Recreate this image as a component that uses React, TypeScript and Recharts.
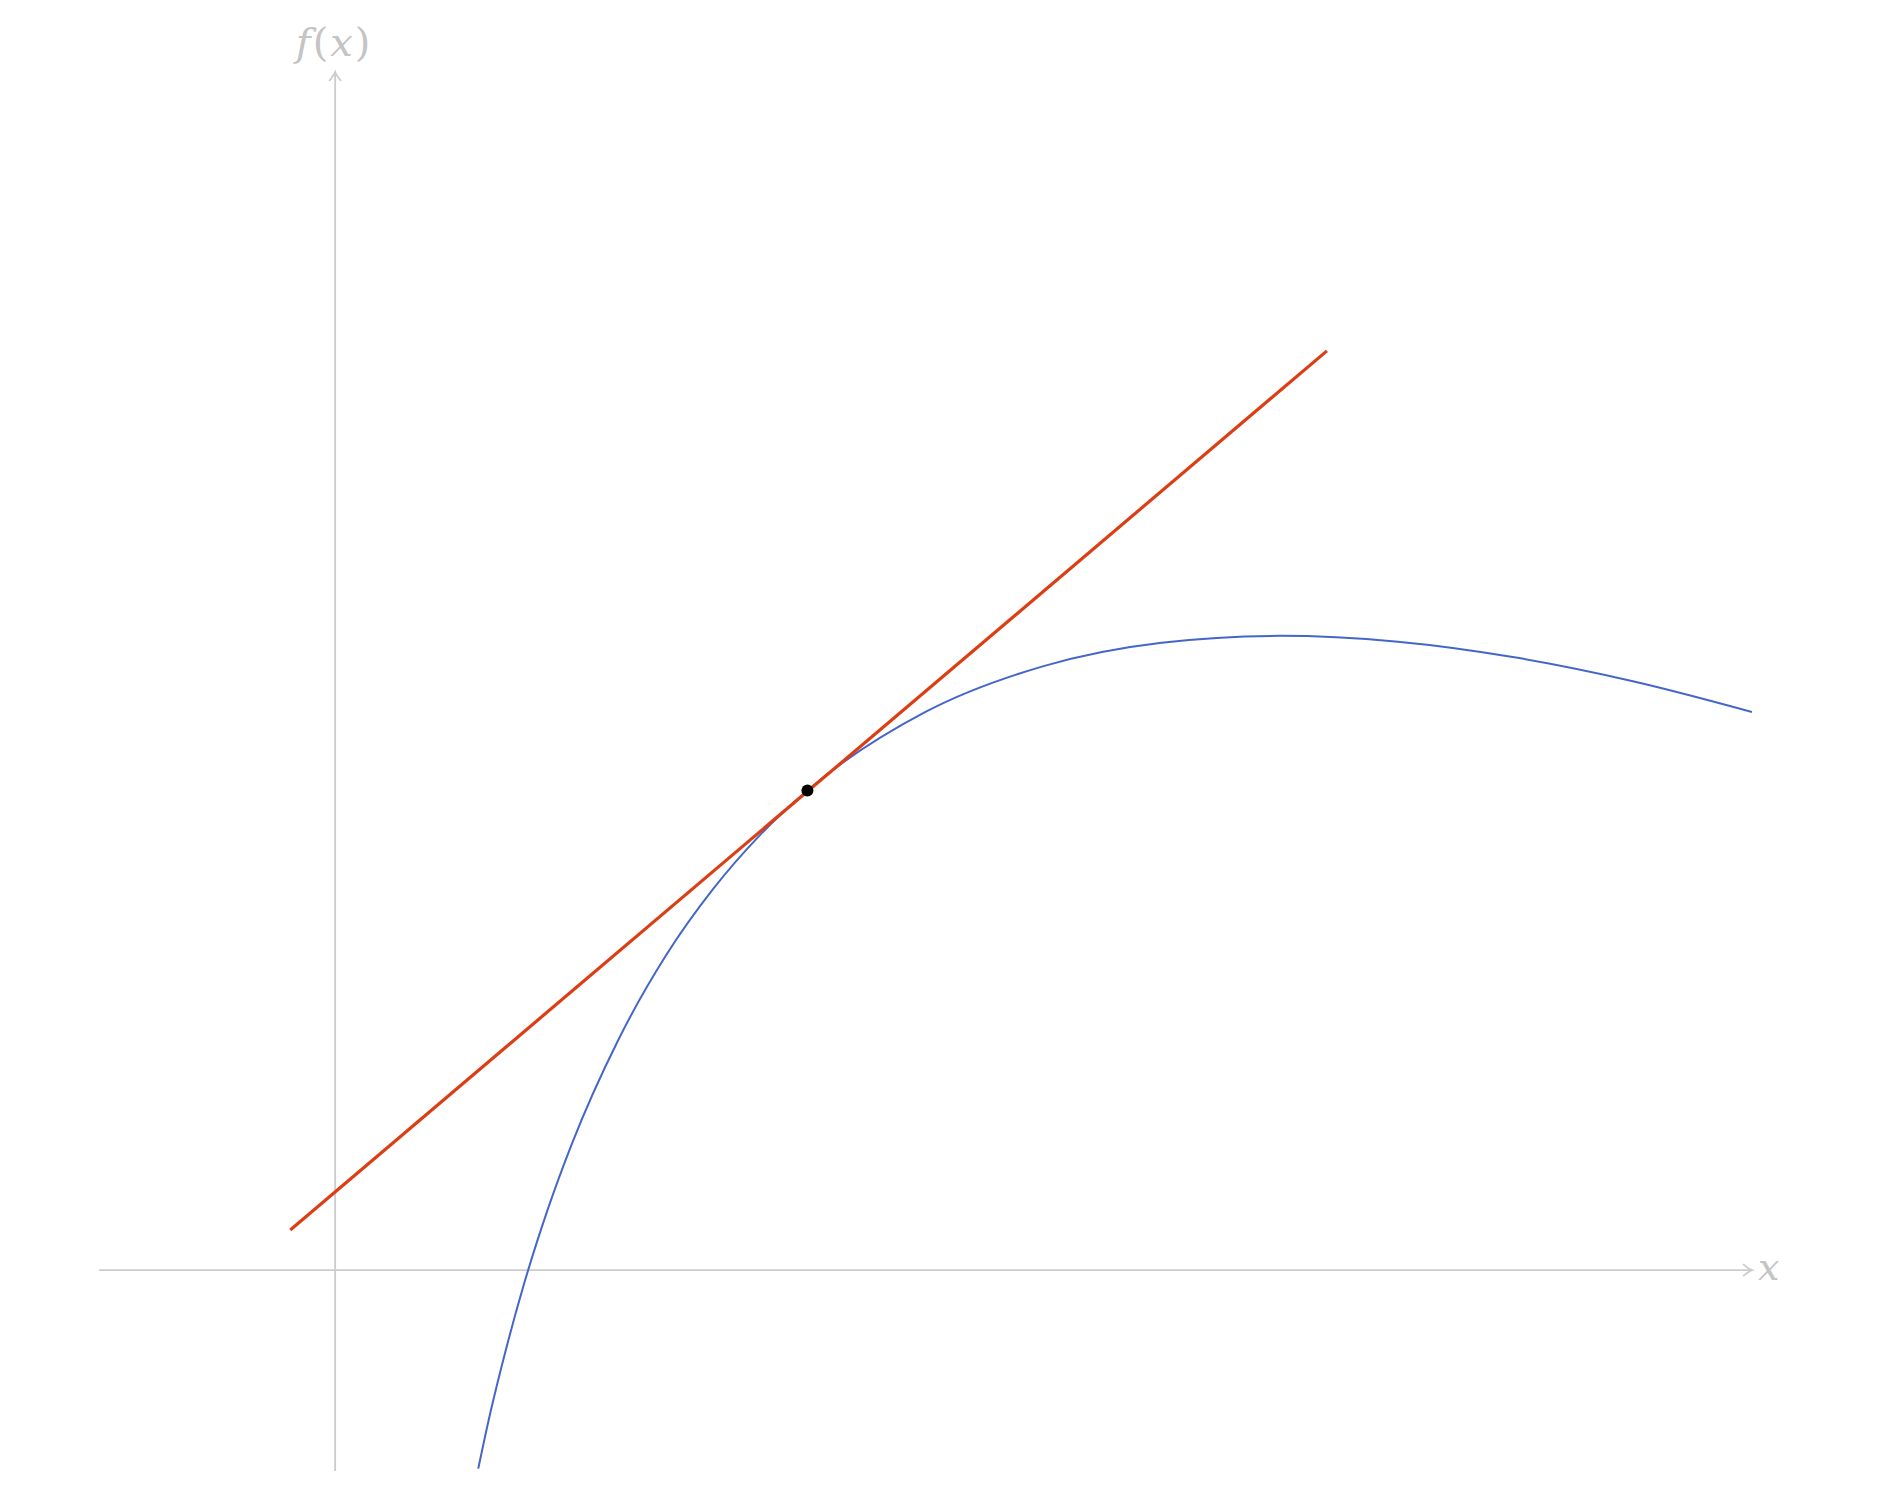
import {
  ComposedChart,
  Line,
  ReferenceLine,
  Scatter,
  XAxis,
  YAxis,
} from 'recharts'

// curve (x, f(x))
const curveX = [0.606, 0.65, 0.7, 0.8, 0.9, 1.0, 1.2, 1.4, 1.6, 1.8, 2.0, 2.5, 3.0, 3.5, 4.0, 4.5, 5.0, 5.5, 6.0]
const curveY = [-0.84, -0.635, -0.427, -0.058, 0.256, 0.528, 0.976, 1.33, 1.612, 1.842, 2.03, 2.362, 2.556, 2.655, 2.684, 2.659, 2.592, 2.491, 2.362]

// tangent segment ends
const tangentX = [-0.19, 4.2]
const tangentY = [0.17, 3.89]

// point of tangency
const pointX = [2.0]
const pointY = [2.03]

const xDomain = [-1, 6]
const yDomain = [-0.85, 5.07]

const curve = curveX.map((x, i) => ({ x, y: curveY[i] }))
const tangent = tangentX.map((x, i) => ({ x, y: tangentY[i] }))
const point = pointX.map((x, i) => ({ x, y: pointY[i] }))

const AXIS = '#cccccc'
const LABEL = '#c4c4c4'
const FONT = '"DejaVu Serif", "Liberation Serif", serif'

function HorizontalAxis(props: any) {
  const { x1, x2, y1 } = props
  const right = Math.max(x1, x2)
  const left = Math.min(x1, x2)
  return (
    <g>
      <line x1={left} y1={y1} x2={right} y2={y1} stroke={AXIS} strokeWidth={1.8} />
      <path
        d={`M${right - 9},${y1 - 6} Q${right - 3},${y1 - 1} ${right},${y1} Q${right - 3},${y1 + 1} ${right - 9},${y1 + 6}`}
        fill="none"
        stroke={AXIS}
        strokeWidth={1.8}
      />
      <text x={right + 6} y={y1 + 10} fill={LABEL} fontFamily={FONT} fontStyle="italic" fontSize={38}>
        x
      </text>
    </g>
  )
}

function VerticalAxis(props: any) {
  const { x1, y1, y2 } = props
  const top = Math.min(y1, y2)
  const bottom = Math.max(y1, y2)
  return (
    <g>
      <line x1={x1} y1={top} x2={x1} y2={bottom} stroke={AXIS} strokeWidth={1.8} />
      <path
        d={`M${x1 - 6},${top + 9} Q${x1 - 1},${top + 3} ${x1},${top} Q${x1 + 1},${top + 3} ${x1 + 6},${top + 9}`}
        fill="none"
        stroke={AXIS}
        strokeWidth={1.8}
      />
      <text x={x1 - 1} y={top - 16} fill={LABEL} fontFamily={FONT} fontSize={40} textAnchor="middle" letterSpacing={2}>
        <tspan fontStyle="italic">f</tspan>
        <tspan>(</tspan>
        <tspan fontStyle="italic">x</tspan>
        <tspan>)</tspan>
      </text>
    </g>
  )
}

function Dot(props: any) {
  const { cx, cy } = props
  return <circle cx={cx} cy={cy} r={6} fill="#000" />
}

export default function App() {
  return (
    <div style={{ position: 'absolute', left: 0, top: 0, background: '#fff' }}>
      <ComposedChart
        width={1882}
        height={1493}
        margin={{ top: 72, right: 130, bottom: 22, left: 99 }}
      >
        <XAxis type="number" dataKey="x" domain={xDomain} allowDataOverflow hide />
        <YAxis type="number" dataKey="y" domain={yDomain} allowDataOverflow hide />
        <ReferenceLine y={0} shape={HorizontalAxis} ifOverflow="visible" />
        <ReferenceLine x={0} shape={VerticalAxis} ifOverflow="visible" />
        <Line
          data={curve}
          dataKey="y"
          type="monotone"
          stroke="#4466c8"
          strokeWidth={2}
          dot={false}
          isAnimationActive={false}
        />
        <Line
          data={tangent}
          dataKey="y"
          type="linear"
          stroke="#dc3e14"
          strokeWidth={3.2}
          dot={false}
          isAnimationActive={false}
        />
        <Scatter data={point} dataKey="y" shape={Dot} isAnimationActive={false} />
      </ComposedChart>
    </div>
  )
}
